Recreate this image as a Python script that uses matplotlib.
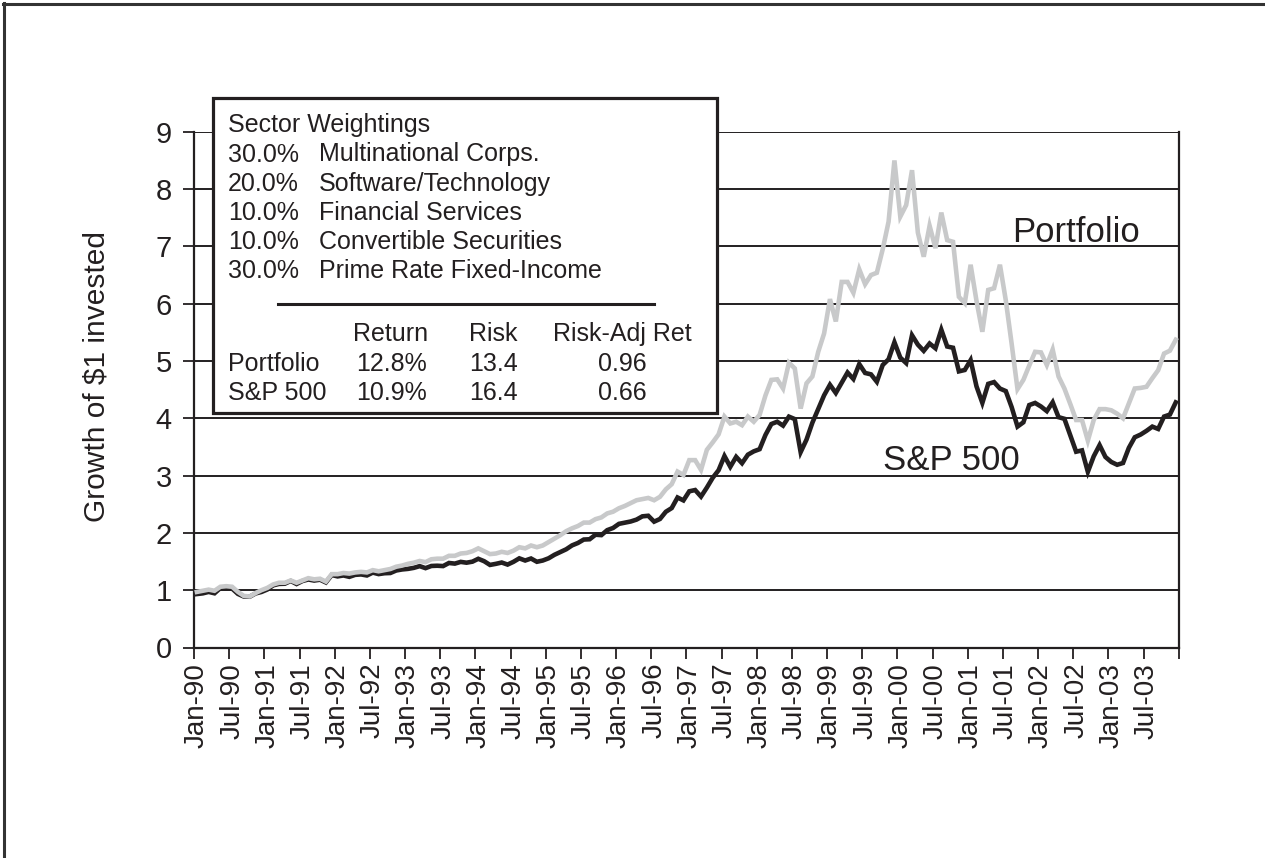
import matplotlib
matplotlib.use("Agg")
import matplotlib.pyplot as plt
from matplotlib.patches import Rectangle
from matplotlib.lines import Line2D
from matplotlib.ticker import FixedLocator, NullFormatter

plt.rcParams['font.family'] = ['Liberation Sans', 'DejaVu Sans']

# ---------------- data (monthly, Jan-90 .. Dec-03) ----------------
sp500 = [
    0.933, 0.945, 0.970, 0.946, 1.038, 1.031, 1.028, 0.935, 0.889, 0.886, 0.943, 0.969,
    1.012, 1.084, 1.110, 1.113, 1.161, 1.108, 1.160, 1.187, 1.168, 1.183, 1.135, 1.265,
    1.241, 1.257, 1.233, 1.268, 1.275, 1.257, 1.307, 1.281, 1.296, 1.300, 1.344, 1.362,
    1.372, 1.390, 1.420, 1.385, 1.423, 1.427, 1.421, 1.475, 1.464, 1.494, 1.480, 1.498,
    1.548, 1.506, 1.441, 1.460, 1.483, 1.447, 1.495, 1.556, 1.518, 1.553, 1.496, 1.518,
    1.557, 1.618, 1.666, 1.714, 1.782, 1.824, 1.884, 1.889, 1.968, 1.961, 2.048, 2.086,
    2.158, 2.178, 2.199, 2.232, 2.289, 2.299, 2.196, 2.243, 2.369, 2.433, 2.618, 2.567,
    2.726, 2.748, 2.634, 2.791, 2.962, 3.094, 3.341, 3.154, 3.327, 3.216, 3.365, 3.423,
    3.461, 3.710, 3.900, 3.940, 3.872, 4.029, 3.986, 3.410, 3.628, 3.923, 4.161, 4.401,
    4.585, 4.442, 4.620, 4.799, 4.686, 4.946, 4.791, 4.767, 4.637, 4.930, 5.030, 5.327,
    5.059, 4.964, 5.449, 5.285, 5.177, 5.305, 5.222, 5.546, 5.253, 5.231, 4.819, 4.843,
    5.015, 4.558, 4.269, 4.601, 4.632, 4.519, 4.475, 4.195, 3.856, 3.930, 4.231, 4.268,
    4.206, 4.125, 4.280, 4.020, 3.991, 3.706, 3.417, 3.440, 3.066, 3.336, 3.532, 3.325,
    3.238, 3.189, 3.220, 3.485, 3.669, 3.716, 3.781, 3.855, 3.814, 4.030, 4.065, 4.278,
]

portfolio = [
    0.97, 0.99, 1.01, 0.99, 1.06, 1.07, 1.06, 0.97, 0.90, 0.89, 0.95, 1.00,
    1.04, 1.10, 1.13, 1.13, 1.17, 1.13, 1.17, 1.21, 1.19, 1.20, 1.15, 1.28,
    1.28, 1.30, 1.29, 1.31, 1.32, 1.31, 1.35, 1.33, 1.35, 1.37, 1.41, 1.43,
    1.46, 1.48, 1.51, 1.49, 1.54, 1.55, 1.55, 1.60, 1.60, 1.64, 1.65, 1.68,
    1.73, 1.68, 1.63, 1.64, 1.67, 1.65, 1.69, 1.75, 1.73, 1.78, 1.75, 1.78,
    1.84, 1.90, 1.96, 2.03, 2.08, 2.12, 2.18, 2.18, 2.24, 2.27, 2.34, 2.37,
    2.43, 2.47, 2.52, 2.57, 2.59, 2.61, 2.57, 2.63, 2.76, 2.85, 3.07, 3.01,
    3.27, 3.27, 3.10, 3.45, 3.58, 3.72, 4.03, 3.91, 3.94, 3.88, 4.03, 3.94,
    4.06, 4.40, 4.67, 4.68, 4.52, 4.97, 4.87, 4.17, 4.61, 4.73, 5.16, 5.48,
    6.08, 5.69, 6.38, 6.38, 6.19, 6.60, 6.34, 6.50, 6.54, 6.95, 7.43, 8.50,
    7.52, 7.72, 8.33, 7.24, 6.82, 7.36, 6.97, 7.59, 7.11, 7.08, 6.12, 6.01,
    6.68, 6.05, 5.51, 6.24, 6.27, 6.68, 6.06, 5.30, 4.51, 4.67, 4.92, 5.16,
    5.15, 4.93, 5.20, 4.73, 4.52, 4.25, 3.97, 3.97, 3.61, 3.97, 4.16, 4.16,
    4.14, 4.08, 4.00, 4.26, 4.52, 4.53, 4.55, 4.70, 4.84, 5.13, 5.18, 5.37,
]

tick_labels = ["Jan-90", "Jul-90", "Jan-91", "Jul-91", "Jan-92", "Jul-92", "Jan-93",
               "Jul-93", "Jan-94", "Jul-94", "Jan-95", "Jul-95", "Jan-96", "Jul-96",
               "Jan-97", "Jul-97", "Jan-98", "Jul-98", "Jan-99", "Jul-99", "Jan-00",
               "Jul-00", "Jan-01", "Jul-01", "Jan-02", "Jul-02", "Jan-03", "Jul-03"]

weights = ["30.0%", "20.0%", "10.0%", "10.0%", "30.0%"]
sectors = ["Multinational Corps.", "Software/Technology", "Financial Services",
           "Convertible Securities", "Prime Rate Fixed-Income"]
stat_cols = ["Return", "Risk", "Risk-Adj Ret"]
stat_rows = ["Portfolio", "S&P 500"]
stat_vals = [["12.8%", "13.4", "0.96"], ["10.9%", "16.4", "0.66"]]

# ---------------- figure ----------------
W, H = 1265, 858
DARK = "#231f20"
GRAY = "#c8c9ca"

fig = plt.figure(figsize=(W / 100, H / 100), dpi=100)
fig.patch.set_facecolor("white")


def fx(x):
    return x / W


def fy(y):
    return 1 - y / H


ax_l, ax_r, ax_t, ax_b = 194, 1178.7, 131.8, 647.5
ax = fig.add_axes([fx(ax_l), fy(ax_b), (ax_r - ax_l) / W, (ax_b - ax_t) / H])

x = list(range(len(sp500)))
ax.plot(x, sp500, color=DARK, lw=3.3, solid_joinstyle="miter", zorder=3)
ax.plot(x, portfolio, color=GRAY, lw=3.3, solid_joinstyle="miter", zorder=4)

ax.set_xlim(-0.5, len(sp500) - 0.5)
ax.set_ylim(0, 9)
ax.set_yticks(range(0, 10))
ax.yaxis.grid(True, color=DARK, lw=1.4)
ax.set_axisbelow(True)

ax.set_xticks(list(range(0, len(tick_labels) * 6, 6)))
ax.set_xticklabels(tick_labels, rotation=90, fontsize=20, color=DARK)
ax.xaxis.set_minor_locator(FixedLocator([i - 0.5 for i in range(0, len(sp500) + 1, 6)]))
ax.xaxis.set_minor_formatter(NullFormatter())
ax.tick_params(axis="x", which="major", length=0, pad=11)
ax.tick_params(axis="x", which="minor", length=8, width=1.3, color=DARK, direction="out")
ax.tick_params(axis="y", which="major", length=8, width=1.3, color=DARK, direction="out",
               labelsize=21, labelcolor=DARK, pad=8)

for s in ["left", "bottom", "right"]:
    ax.spines[s].set_color(DARK)
    ax.spines[s].set_linewidth(1.6)
ax.spines["top"].set_visible(False)

fig.text(fx(97), fy(377), "Growth of $1 invested", rotation=90, ha="center", va="center",
         fontsize=21.5, color=DARK)

# series labels
fig.text(fx(1012), fy(241.7), "Portfolio", ha="left", va="baseline", fontsize=25, color=DARK)
fig.text(fx(883), fy(470), "S&P 500", ha="left", va="baseline", fontsize=25, color=DARK)

# ---------------- info box ----------------
bx0, by0, bx1, by1 = 213, 98, 717, 413
fig.add_artist(Rectangle((fx(bx0), fy(by1)), (bx1 - bx0) / W, (by1 - by0) / H,
                         transform=fig.transFigure, facecolor="white", edgecolor=DARK,
                         lw=2.3, zorder=10))
FS = 18
fig.text(fx(228), fy(132), "Sector Weightings", ha="left", va="baseline", fontsize=FS,
         color=DARK, zorder=11)
for i, (w, s) in enumerate(zip(weights, sectors)):
    yb = 161.5 + 29.2 * i
    fig.text(fx(228), fy(yb), w, ha="left", va="baseline", fontsize=FS, color=DARK, zorder=11)
    fig.text(fx(319), fy(yb), s, ha="left", va="baseline", fontsize=FS, color=DARK, zorder=11)
fig.add_artist(Line2D([fx(278), fx(654)], [fy(304), fy(304)], transform=fig.transFigure,
                      color=DARK, lw=2.2, zorder=11))
col_x = [391, 493, 622]
for cx, c in zip(col_x, stat_cols):
    fig.text(fx(cx), fy(341), c, ha="center", va="baseline", fontsize=FS, color=DARK, zorder=11)
for r, (rn, vals) in enumerate(zip(stat_rows, stat_vals)):
    yb = 370.5 + 29.5 * r
    fig.text(fx(228), fy(yb), rn, ha="left", va="baseline", fontsize=FS, color=DARK, zorder=11)
    for cx, v in zip(col_x, vals):
        fig.text(fx(cx), fy(yb), v, ha="center", va="baseline", fontsize=FS, color=DARK,
                 zorder=11)

# ---------------- outer frame (top and left edges) ----------------
fig.add_artist(Line2D([fx(3), fx(W + 5)], [fy(3.5), fy(3.5)], transform=fig.transFigure,
                      color="#333333", lw=2.2, zorder=20))
fig.add_artist(Line2D([fx(3.5), fx(3.5)], [fy(3), fy(H + 5)], transform=fig.transFigure,
                      color="#333333", lw=2.2, zorder=20))

fig.savefig("out.png", dpi=100)
